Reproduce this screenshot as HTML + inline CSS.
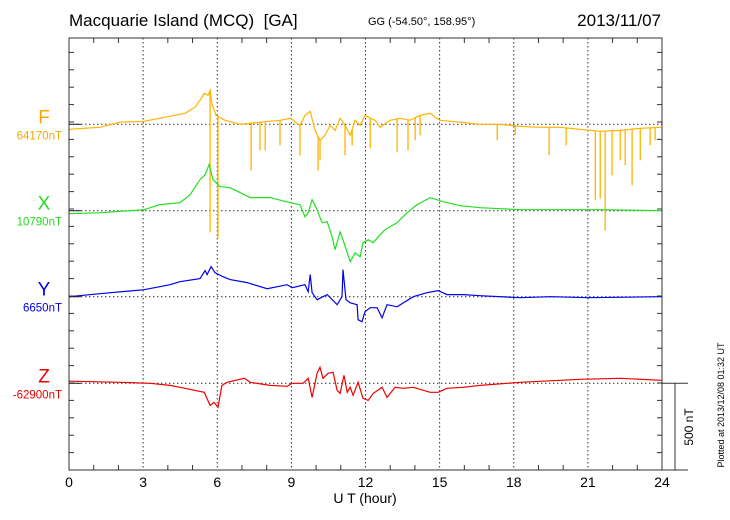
<!DOCTYPE html>
<html><head><meta charset="utf-8"><style>
html,body{margin:0;padding:0;background:#fff;}
svg{display:block;font-family:"Liberation Sans",sans-serif;}
</style></head><body>
<svg id="chart" width="730" height="520" viewBox="0 0 730 520">
<text x="69" y="26" font-size="17">Macquarie Island (MCQ)&#160;&#160;[GA]</text>
<text x="368" y="25" font-size="11">GG (-54.50°, 158.95°)</text>
<text x="661" y="26" font-size="17" text-anchor="end">2013/11/07</text>
<g id="grid"></g>
<g id="series"></g>
<g id="axes"></g>
<text x="365" y="503" font-size="14" text-anchor="middle">U T (hour)</text>
<text transform="translate(693,427) rotate(-90)" font-size="12" text-anchor="middle">500 nT</text>
<text transform="translate(724,405) rotate(-90)" font-size="9" text-anchor="middle">Plotted at 2013/12/08 01:32 UT</text>
</svg>
<script>
const xTickLabels=["0","3","6","9","12","15","18","21","24"];
const componentNames=["F","X","Y","Z"];
const baselineLabels=["64170nT","10790nT","6650nT","-62900nT"];
const fHours=[0,1.25,2.06,3.04,3.68,4.7,5.1,5.3,5.47,5.63,5.71,5.79,5.95,6.32,6.92,7.73,8.54,8.99,9.15,9.35,9.55,9.76,9.96,10.16,10.36,10.57,10.77,10.97,11.17,11.38,11.58,11.78,11.98,12.19,12.39,12.59,13.0,13.4,13.8,14.21,14.62,14.82,15.02,15.83,16.64,17.45,18.26,19.07,19.88,20.69,21.5,22.31,23.12,23.97];
const fValues=[-29,-17,12,17,35,63,98,138,178,167,196,115,52,23,0,12,23,35,12,-6,52,75,-35,-92,-63,-6,-35,35,-6,-63,23,-6,52,35,23,-17,23,35,23,52,63,40,23,12,0,0,-12,-17,-17,-29,-40,-35,-23,-17];
const fSpikeHours=[5.71,6.03,7.37,7.73,7.94,8.54,9.35,10.08,10.16,11.17,11.46,12.19,13.28,13.72,14.01,14.21,17.33,18.06,19.43,20.12,21.3,21.5,21.7,21.98,22.31,22.51,22.79,23.12,23.52,23.72];
const fSpikeValues=[-621,-656,-265,-150,-150,-121,-178,-265,-207,-178,-121,-138,-161,-150,-92,-63,-92,-63,-178,-121,-437,-426,-610,-293,-207,-236,-351,-207,-121,-92];
const xHours=[0,1.25,3.04,3.68,4.49,4.9,5.3,5.51,5.67,5.83,6.11,6.52,6.92,7.33,8.14,8.95,9.35,9.55,9.68,9.84,10.04,10.24,10.45,10.65,10.77,10.97,11.09,11.26,11.38,11.58,11.78,11.9,12.11,12.31,12.59,12.79,13.28,13.68,14.09,14.62,15.14,15.83,16.64,18.26,19.88,21.5,23.97];
const xValues=[-17,-12,6,35,46,92,178,207,265,178,138,132,104,75,75,46,35,-35,-12,63,6,-69,-63,-150,-224,-121,-167,-242,-293,-242,-265,-184,-167,-184,-138,-109,-69,-12,35,75,52,29,17,6,6,6,0];
const yHours=[0,1.25,3.04,4.09,4.49,5.3,5.51,5.59,5.75,5.91,6.23,6.52,7.21,8.02,8.83,9.03,9.55,9.68,9.76,9.84,10.04,10.45,10.85,11.05,11.09,11.21,11.38,11.66,11.7,11.86,11.98,12.19,12.47,12.67,12.87,13.28,13.93,14.49,14.94,15.3,15.95,16.64,18.26,19.5,21,23.97];
const yValues=[0,17,40,69,86,104,150,127,173,138,115,98,81,46,69,52,69,29,127,23,-17,12,-46,0,155,-17,-35,-46,-132,-144,-86,-63,-63,-121,-46,-58,0,23,35,12,12,6,-6,0,-6,0];
const zHours=[0,2.06,3.28,4.09,4.49,5.47,5.71,5.87,6.03,6.19,6.4,7.1,7.33,8.14,8.83,9.03,9.47,9.68,9.84,10.04,10.16,10.28,10.49,10.69,10.85,10.97,11.13,11.26,11.38,11.5,11.7,11.9,12.11,12.31,12.67,12.87,13.2,13.52,13.93,14.62,14.94,15.3,15.95,16.64,18.26,20.69,22.31,23.97];
const zValues=[12,6,0,-12,-23,-52,-127,-109,-138,-12,6,29,6,-12,-17,0,0,29,-81,58,92,29,58,63,-40,-58,46,-52,-23,-69,6,-86,-98,-58,-23,-81,-23,-29,-23,-52,-52,-29,-23,-12,6,23,29,17];

const L=69,R=662,T=38,B=470;
const baselines=[124.3,210.7,296.7,383.3];
const pxPerNT=87/500;
const colors=["#ffb300","#22e022","#0000ee","#ee0000"];
const labelColors=["#f7a800","#22dd22","#0000ee","#ee0000"];
const xs=h=>L+h*(R-L)/24;
const ys=(i,v)=>baselines[i]-v*pxPerNT;
const NS="http://www.w3.org/2000/svg";
function mk(tag,attrs,parent){const e=document.createElementNS(NS,tag);for(const k in attrs)e.setAttribute(k,attrs[k]);parent.appendChild(e);return e;}
const grid=document.getElementById('grid'),axes=document.getElementById('axes'),series=document.getElementById('series'),svg=document.getElementById('chart');

for(let k=1;k<8;k++){const x=xs(k*3);
 const g=mk('line',{x1:x,y1:T,x2:x,y2:B,stroke:'#333','stroke-width':1,'stroke-dasharray':'1.5,2.5'},grid);
 
 }
baselines.forEach((b,i)=>{const g=mk('line',{x1:L,y1:b,x2:R,y2:b,stroke:'#333','stroke-width':1,'stroke-dasharray':'1.5,2.5'},grid);
 
 });

function polyline(hours,vals,i,name){
 const pts=hours.map((h,j)=>xs(h).toFixed(1)+','+ys(i,vals[j]).toFixed(1)).join(' ');
 const p=mk('polyline',{points:pts,fill:'none',stroke:colors[i],'stroke-width':1.2},series);
 
 }
function interp(hours,vals,h){for(let j=0;j<hours.length-1;j++){if(h>=hours[j]&&h<=hours[j+1]){const t=(h-hours[j])/(hours[j+1]-hours[j]);return vals[j]+t*(vals[j+1]-vals[j]);}}return vals[vals.length-1];}
polyline(fHours,fValues,0,'f-series-line');
fSpikeHours.forEach((h,j)=>{const x=xs(h);
 const s=mk('line',{x1:x,y1:ys(0,interp(fHours,fValues,h)),x2:x,y2:ys(0,fSpikeValues[j]),stroke:colors[0],'stroke-width':1.3},series);
 
 });
polyline(xHours,xValues,1,'x-series-line');
polyline(yHours,yValues,2,'y-series-line');
polyline(zHours,zValues,3,'z-series-line');

const frame=mk('rect',{x:L,y:T,width:R-L,height:B-T,fill:'none',stroke:'#333','stroke-width':1},axes);


for(let h=1;h<24;h++){const x=xs(h),len=(h%3===0)?0:5;
 if(len){mk('line',{x1:x,y1:T,x2:x,y2:T+len,stroke:'#333'},axes);mk('line',{x1:x,y1:B,x2:x,y2:B-len,stroke:'#333'},axes);}}
for(let y=B-17.4;y>T+2;y-=17.4){mk('line',{x1:L,y1:y,x2:L+5,y2:y,stroke:'#333'},axes);mk('line',{x1:R,y1:y,x2:R-5,y2:y,stroke:'#333'},axes);}
baselines.forEach(b=>{mk('line',{x1:L,y1:b,x2:L+12,y2:b,stroke:'#222'},axes);});
xTickLabels.forEach((t,k)=>{const e=mk('text',{x:xs(k*3),y:487,'font-size':14,'text-anchor':'middle'},svg);e.textContent=t;
 
 });
componentNames.forEach((n,i)=>{const a=mk('text',{x:44,y:baselines[i]-1,'font-size':19,'text-anchor':'middle',fill:labelColors[i]},svg);a.textContent=n;
 
 
 const b=mk('text',{x:62,y:baselines[i]+15,'font-size':11.5,'text-anchor':'end',fill:labelColors[i]},svg);b.textContent=baselineLabels[i];
 
 });
const sb=[mk('line',{x1:R,y1:383.3,x2:688,y2:383.3,stroke:'#333'},axes),mk('line',{x1:R,y1:B,x2:688,y2:B,stroke:'#333'},axes),mk('line',{x1:675,y1:383.3,x2:675,y2:B,stroke:'#333'},axes)];
sb.forEach(e=>{
 });
</script>
</body></html>
